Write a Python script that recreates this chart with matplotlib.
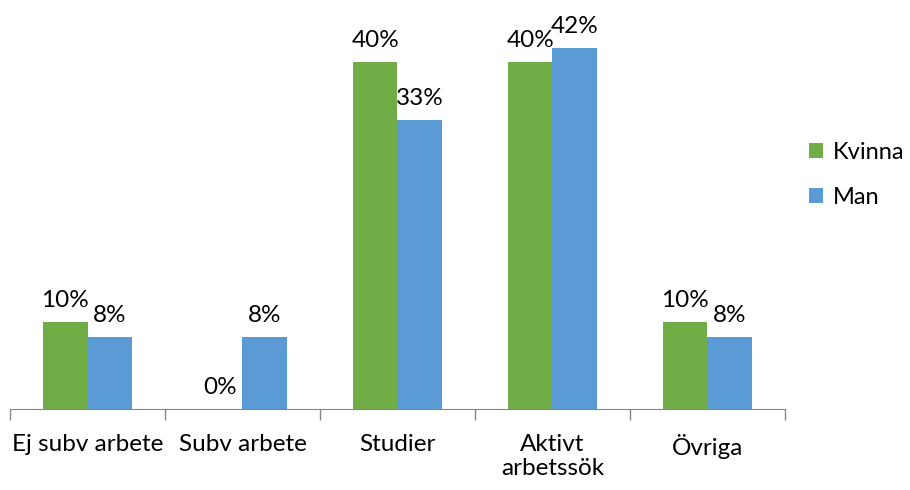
import matplotlib.pyplot as plt
import numpy as np

# categories and shares (fractions)
categories = ["Ej subv arbete", "Subv arbete", "Studier", "Aktivt\narbetssök", "Övriga"]
kvinna = [0.10, 0.0, 0.40, 0.40, 0.10]
man = [1 / 12, 1 / 12, 4 / 12, 5 / 12, 1 / 12]

green = "#70ad47"
blue = "#5b9bd5"

plt.rcParams['font.family'] = ['Lato', 'DejaVu Sans']

fig = plt.figure(figsize=(9.1, 4.9), dpi=100)
ax = fig.add_axes([0.011, 0.1653, 0.8516, 0.7957])

x = np.arange(len(categories))
w = 1 / 3.5
b1 = ax.bar(x - w / 2, kvinna, w, color=green, label="Kvinna")
b2 = ax.bar(x + w / 2, man, w, color=blue, label="Man")

for bars in (b1, b2):
    for r in bars:
        h = r.get_height()
        ax.annotate("{:.0f}%".format(h * 100), (r.get_x() + r.get_width() / 2, h),
                    xytext=(0, 8), textcoords="offset points",
                    ha="center", va="bottom", fontsize=17.5)

ax.set_xlim(-0.5, len(categories) - 0.5)
ax.set_ylim(0, 0.45)
ax.set_yticks([])
for s in ["top", "right", "left"]:
    ax.spines[s].set_visible(False)
ax.spines["bottom"].set_color("#868686")

ax.set_xticks(x)
ax.set_xticklabels(categories, fontsize=17.5, linespacing=1.2, va="top")
ax.tick_params(axis="x", length=0, pad=18)
ax.set_xticks(np.arange(len(categories) + 1) - 0.5, minor=True)
ax.tick_params(axis="x", which="minor", length=8, color="#868686", width=1)

ax.legend(loc="center left", bbox_to_anchor=(1.004, 0.6), frameon=False,
          fontsize=17, handlelength=0.6, handleheight=0.6, labelspacing=1.0,
          handletextpad=0.4)

fig.savefig("out.png")
